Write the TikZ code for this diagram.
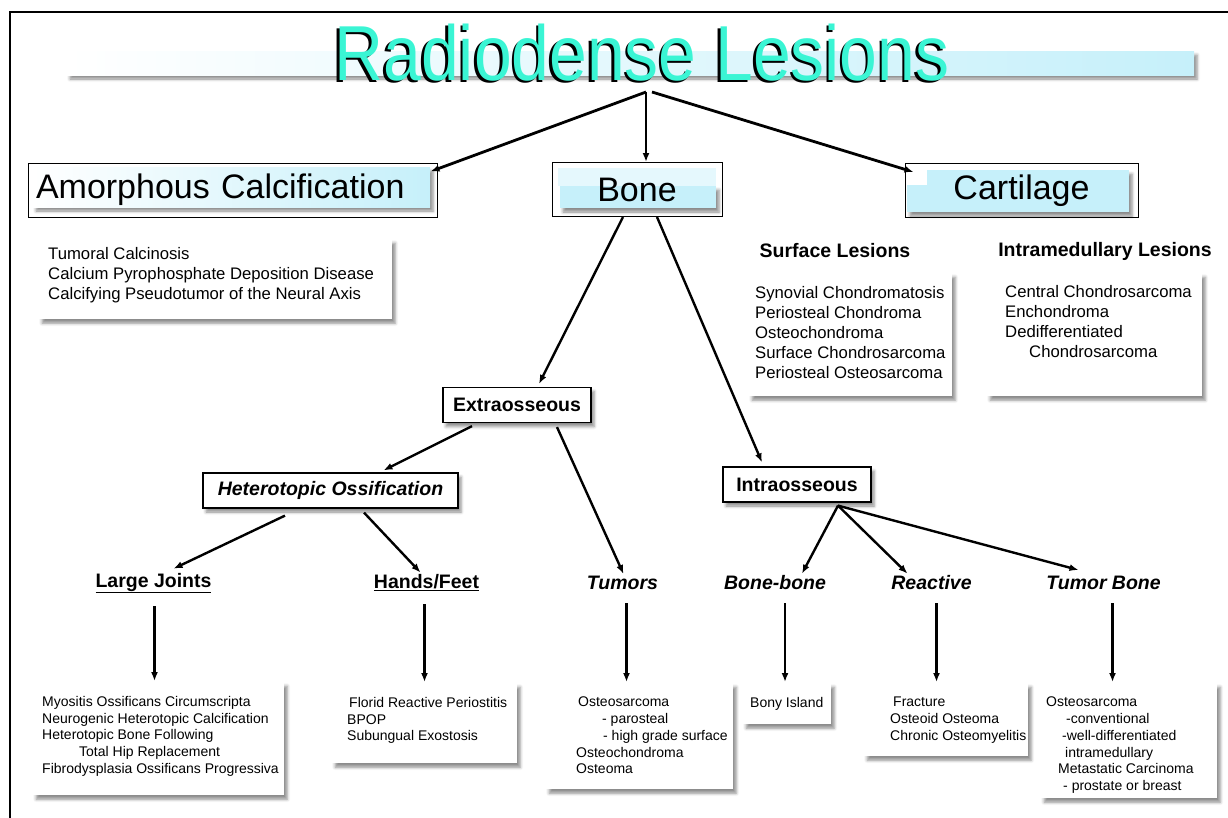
\documentclass[tikz,border=0pt]{standalone}
\usepackage{fontspec}
\setmainfont{Liberation Sans}
\usetikzlibrary{arrows.meta,positioning,shadows.blur}
\definecolor{barcyan}{RGB}{198,240,250}
\definecolor{titlecyan}{RGB}{58,245,212}
\newcommand{\fs}[2]{\fontsize{#1}{#2}\selectfont}

\begin{document}
\begin{tikzpicture}[x=1pt, y=-1pt, >={Latex[length=9pt,width=7pt]}, line width=2.4pt]
\tikzstyle{softshadow}=[blur shadow={shadow xshift=3pt, shadow yshift=-4pt, shadow blur radius=3pt, shadow opacity=45}]
\tikzstyle{lbl}=[inner sep=1pt, font=\fs{19.5}{23}\bfseries]
\tikzstyle{lbli}=[lbl, font=\fs{19.5}{23}\bfseries\itshape]
\tikzstyle{midbox}=[draw, line width=1.2pt, fill=white, minimum height=35pt, softshadow]
\tikzstyle{topbox}=[draw, line width=1pt, minimum height=54pt, font=\fs{34}{40}]
\tikzstyle{listbox}=[fill=white, anchor=north west, inner sep=0pt, softshadow]
\tikzstyle{listtext}=[anchor=north west, align=left, inner sep=0pt, font=\fs{14}{16.7}]
\tikzstyle{biglist}=[listtext, font=\fs{16.7}{20}]

\useasboundingbox (0,0) rectangle (1228,817);
\draw[line width=2.5pt] (10,830) -- (10,12) -- (1240,12);

% title bar and title
\shade[softshadow, left color=white, right color=barcyan] (67,51) rectangle (1194,75);
\node[font=\fs{78}{84}, xscale=0.87, anchor=base] (title) at (642,80)
  {\rlap{\kern-3pt\raisebox{-2.5pt}{Radiodense Lesions}}\textcolor{titlecyan}{Radiodense Lesions}};
\coordinate (hub) at (646,92);

% top level
\shade[softshadow, left color=white, right color=barcyan] (33,167) rectangle (430,207);
\fill[barcyan!45] (558,168) rectangle (716,186);
\fill[softshadow, barcyan] (560,186) rectangle (716,208);
\fill[softshadow, barcyan] (907,170) rectangle (1129,212);
\fill[white] (907,170) rectangle (927,185);
\node[topbox, minimum width=409, text width=393, align=left, inner xsep=8pt] (amorph) at (232.5,190) {Amorphous Calcification};
\node[topbox, minimum width=170] (bone) at (637,189.5) {Bone};
\node[topbox, minimum width=233] (cart) at (1021.5,190.5) {Cartilage};

\draw[->, line width=2.8pt] (hub) -- ([xshift=-7pt,yshift=-9pt]amorph.north east);
\draw[->, line width=2.8pt] (hub) -- (hub |- bone.north);
\draw[->, line width=2.8pt] ([xshift=6pt]hub) -- ([xshift=9pt,yshift=-9pt]cart.north west);

% amorphous list
\node[listbox, minimum width=353, minimum height=80] (ambox) at (38,238) {};
\node[biglist, below right=8pt and 9pt of ambox.north west] (amtext)
  {Tumoral Calcinosis\\Calcium Pyrophosphate Deposition Disease\\Calcifying Pseudotumor of the Neural Axis};

% cartilage lists
\node[lbl] (surfhead) at (835,251) {Surface Lesions};
\node[lbl] (medhead) at (1105,251) {Intramedullary Lesions};
\node[listbox, minimum width=203, minimum height=123] (surfbox) at (748,272) {};
\node[biglist, below right=13pt and 6pt of surfbox.north west] (surftext)
  {Synovial Chondromatosis\\Periosteal Chondroma\\Osteochondroma\\Surface Chondrosarcoma\\Periosteal Osteosarcoma};
\node[listbox, minimum width=215, minimum height=123] (medbox) at (986,272) {};
\node[biglist, below right=12pt and 18pt of medbox.north west] (medtext)
  {Central Chondrosarcoma\\Enchondroma\\Dedifferentiated\\\hspace*{24pt}Chondrosarcoma};

% bone branches
\node[midbox, lbl, minimum width=148] (extra) at (517,405) {Extraosseous};
\node[midbox, lbl, minimum width=148] (intra) at (797,484.5) {Intraosseous};
\node[midbox, lbli, minimum width=255] (hetero) at (330.5,490.5) {Heterotopic Ossification};

\draw[->] ([xshift=-14pt]bone.south) -- ([xshift=22pt,yshift=3pt]extra.north);
\draw[->] ([xshift=20pt]bone.south) -- ([xshift=-35pt,yshift=4pt]intra.north);
\draw[->] ([xshift=-45pt,yshift=-3pt]extra.south) -- ([xshift=53pt,yshift=2pt]hetero.north);

% third level
\node[lbl] (lj) at (153.5,583) {\underline{Large Joints}};
\node[lbl] (hf) at (426.5,583) {\underline{Hands/Feet}};
\node[lbli] (tumors) at (622.5,583) {Tumors};
\node[lbli] (bb) at (775,583) {Bone-bone};
\node[lbli] (react) at (931.5,583) {Reactive};
\node[lbli] (tb) at (1103.5,583) {Tumor Bone};

\draw[->] ([xshift=40pt,yshift=-4pt]extra.south) -- ([xshift=1pt]tumors.north);
\draw[->] ([xshift=-45.5pt,yshift=-7pt]hetero.south) -- ([xshift=20pt,yshift=2pt]lj.north);
\draw[->] ([xshift=33.5pt,yshift=-4pt]hetero.south) -- ([xshift=-6pt]hf.north);
\draw[->] ([xshift=41pt,yshift=-3pt]intra.south) -- ([xshift=27pt]bb.north);
\draw[->] ([xshift=41pt,yshift=-3pt]intra.south) -- ([xshift=-24pt]react.north);
\draw[->] ([xshift=41pt,yshift=-3pt]intra.south) -- ([xshift=-25pt,yshift=4pt]tb.north);

% bottom lists
\node[listbox, minimum width=251, minimum height=113] (ljbox) at (32,681) {};
\node[listtext, below right=14pt and 9pt of ljbox.north west] (ljtext)
  {Myositis Ossificans Circumscripta\\Neurogenic Heterotopic Calcification\\Heterotopic Bone Following\\
   \hspace*{37pt}Total Hip Replacement\\Fibrodysplasia Ossificans Progressiva};
\node[listbox, minimum width=185, minimum height=80] (hfbox) at (331,682) {};
\node[listtext, below right=14pt and 15pt of hfbox.north west] (hftext)
  {\hspace*{2pt}Florid Reactive Periostitis\\BPOP\\Subungual Exostosis};
\node[listbox, minimum width=187, minimum height=106] (tubox) at (545,682) {};
\node[listtext, below right=14pt and 30pt of tubox.north west] (tutext)
  {\hspace*{2pt}Osteosarcoma\\\hspace*{26pt}- parosteal\\\hspace*{27pt}- high grade surface\\Osteochondroma\\Osteoma};
\node[listbox, minimum width=88, minimum height=41] (bibox) at (742,682) {};
\node[listtext, below right=14pt and 7pt of bibox.north west] (bitext) {Bony Island};
\node[listbox, minimum width=164, minimum height=73] (rebox) at (863,682) {};
\node[listtext, below right=14pt and 26pt of rebox.north west] (retext)
  {\hspace*{3pt}Fracture\\Osteoid Osteoma\\Chronic Osteomyelitis};
\node[listbox, minimum width=176, minimum height=115] (tbbox) at (1040,682) {};
\node[listtext, below right=14pt and 5pt of tbbox.north west] (tbtext)
  {Osteosarcoma\\\hspace*{20pt}-conventional\\\hspace*{16pt}-well-differentiated\\\hspace*{19pt}intramedullary\\
   \hspace*{12pt}Metastatic Carcinoma\\\hspace*{17pt}- prostate or breast};

\draw[->] ([xshift=1pt,yshift=-11pt]lj.south) -- ([xshift=1pt]lj.south |- ljbox.north);
\draw[->] ([xshift=-2pt,yshift=-11pt]hf.south) -- ([xshift=-2pt]hf.south |- hfbox.north);
\draw[->] ([xshift=4pt,yshift=-11pt]tumors.south) -- ([xshift=4pt]tumors.south |- tubox.north);
\draw[->] ([xshift=10pt,yshift=-11pt]bb.south) -- ([xshift=10pt]bb.south |- bibox.north);
\draw[->] ([xshift=5pt,yshift=-11pt]react.south) -- ([xshift=5pt]react.south |- rebox.north);
\draw[->] ([xshift=9pt,yshift=-11pt]tb.south) -- ([xshift=9pt]tb.south |- tbbox.north);
\end{tikzpicture}
\end{document}
